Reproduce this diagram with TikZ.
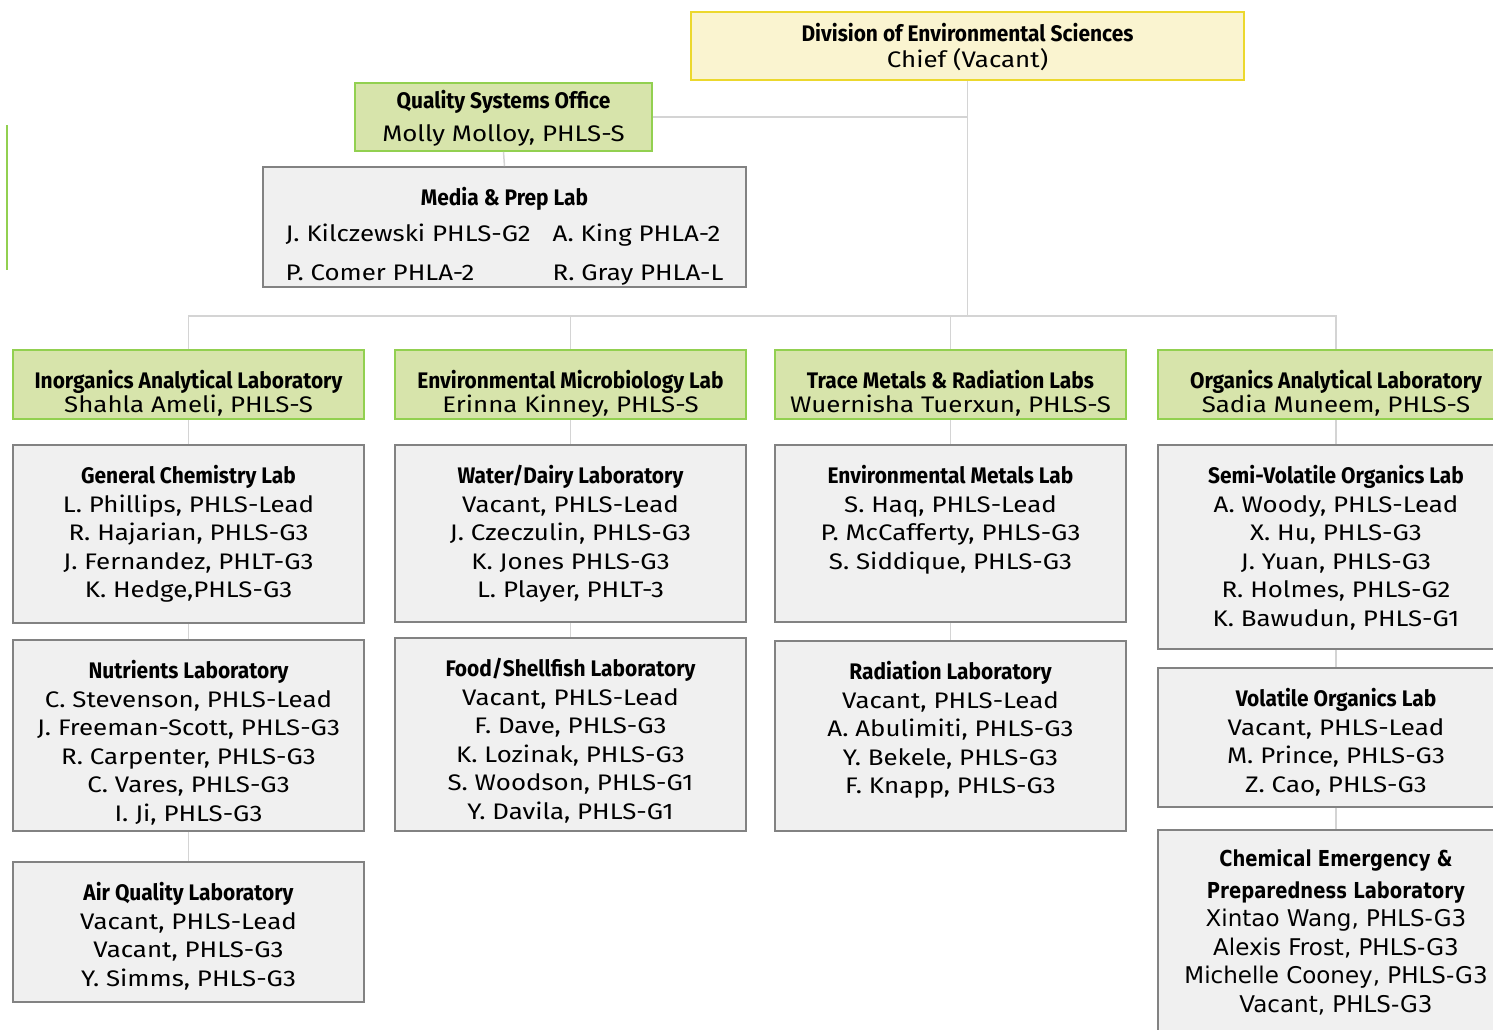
\documentclass[tikz,border=0pt]{standalone}
\usepackage{fontspec}
\setmainfont{Fira Sans}
\newfontfamily\bodyf{Fira Sans}[FakeStretch=1.15]
\newfontfamily\titf{Fira Sans}[FakeStretch=0.93]
\newfontfamily\dvf{DejaVu Sans}
\newfontfamily\dvtf{DejaVu Sans}[FakeStretch=0.82]
\definecolor{gfill}{RGB}{215,228,171}
\definecolor{gdraw}{RGB}{146,208,80}
\definecolor{yfill}{RGB}{250,244,208}
\definecolor{ydraw}{RGB}{236,216,45}
\definecolor{grfill}{RGB}{240,240,240}
\definecolor{grdraw}{RGB}{130,130,130}
\definecolor{conn}{RGB}{212,212,212}
\newcommand\ttl[1]{{\fontsize{22.5}{28.5}\titf\bfseries\strut #1}}
\newcommand\tb[3][340pt]{\parbox[c][#2pt][t]{#1}{\centering\vspace*{19pt}#3}}
\begin{document}
\begin{tikzpicture}[x=1pt,y=-1pt,
  basebox/.style={rectangle, inner sep=0pt, align=center, text=black},
  topbox/.style={basebox, fill=yfill, draw=ydraw, line width=2.5pt, minimum width=553, minimum height=68,
     font=\fontsize{22.5}{24}\selectfont\bodyf},
  greenbox/.style={basebox, fill=gfill, draw=gdraw, line width=1.8pt, minimum height=69,
     font=\fontsize{22.5}{24}\selectfont\bodyf},
  graybox/.style={basebox, fill=grfill, draw=grdraw, line width=1.6pt,
     font=\fontsize{22.5}{28.5}\selectfont\bodyf},
  link/.style={draw=conn, line width=1.5pt}]
\useasboundingbox (0,0) rectangle (1493,1029);

% stray green mark
\draw[gdraw, line width=2.8pt] (7,125) -- (7,270);

% top
\node[topbox] (div) at (967.5,46) {\ttl{Division of Environmental Sciences}\\[-3pt]Chief (Vacant)};
\node[greenbox, minimum width=297, minimum height=68, font=\fontsize{22.5}{33}\selectfont\bodyf] (qso) at (503.5,117)
  {\ttl{Quality Systems Office}\\Molly Molloy, PHLS-S};
\node[graybox, minimum width=483, minimum height=120] (media) at (504.5,227)
  {\tb[475pt]{120}{\begin{tabular}[t]{@{}l@{\hspace{22pt}}l@{}}
   \multicolumn{2}{c}{\ttl{Media \& Prep Lab}}\\[7pt]
   J. Kilczewski PHLS-G2 & A. King PHLA-2\\[10.5pt]
   P. Comer PHLA-2 & R. Gray PHLA-L
   \end{tabular}}};

% level 2
\node[greenbox, minimum width=351] (inorg) at (188.5,384.5) {\tb{69}{\ttl{Inorganics Analytical Laboratory}\\[-4pt]Shahla Ameli, PHLS-S}};
\node[greenbox, minimum width=351] (micro) at (570.5,384.5) {\tb{69}{\ttl{Environmental Microbiology Lab}\\[-4pt]Erinna Kinney, PHLS-S}};
\node[greenbox, minimum width=351] (trace) at (950.5,384.5) {\tb{69}{\ttl{Trace Metals \& Radiation Labs}\\[-4pt]Wuernisha Tuerxun, PHLS-S}};
\node[greenbox, minimum width=356] (org) at (1336,384.5) {\tb{69}{\ttl{Organics Analytical Laboratory}\\[-4pt]Sadia Muneem, PHLS-S}};

% column 1
\node[graybox, minimum width=351] (genchem) at (188.5,534) {\tb{178}{\ttl{General Chemistry Lab}\\L. Phillips, PHLS-Lead\\R. Hajarian, PHLS-G3\\J. Fernandez, PHLT-G3\\K. Hedge,PHLS-G3}};
\node[graybox, minimum width=351] (nutr) at (188.5,735.5) {\tb{191}{\ttl{Nutrients Laboratory}\\C. Stevenson, PHLS-Lead\\J. Freeman-Scott, PHLS-G3\\R. Carpenter, PHLS-G3\\C. Vares, PHLS-G3\\I. Ji, PHLS-G3}};
\node[graybox, minimum width=351] (air) at (188.5,932) {\tb{140}{\ttl{Air Quality Laboratory}\\Vacant, PHLS-Lead\\Vacant, PHLS-G3\\Y. Simms, PHLS-G3}};

% column 2
\node[graybox, minimum width=351] (water) at (570.5,533.5) {\tb{177}{\ttl{Water/Dairy Laboratory}\\Vacant, PHLS-Lead\\J. Czeczulin, PHLS-G3\\K. Jones PHLS-G3\\L. Player, PHLT-3}};
\node[graybox, minimum width=351] (food) at (570.5,734.5) {\tb{193}{\ttl{Food/Shellfish Laboratory}\\Vacant, PHLS-Lead\\F. Dave, PHLS-G3\\K. Lozinak, PHLS-G3\\S. Woodson, PHLS-G1\\Y. Davila, PHLS-G1}};

% column 3
\node[graybox, minimum width=351] (envmet) at (950.5,533.5) {\tb{177}{\ttl{Environmental Metals Lab}\\S. Haq, PHLS-Lead\\P. McCafferty, PHLS-G3\\S. Siddique, PHLS-G3}};
\node[graybox, minimum width=351] (rad) at (950.5,736) {\tb{190}{\ttl{Radiation Laboratory}\\Vacant, PHLS-Lead\\A. Abulimiti, PHLS-G3\\Y. Bekele, PHLS-G3\\F. Knapp, PHLS-G3}};

% column 4
\node[graybox, minimum width=356] (semi) at (1336,547) {\tb{204}{\ttl{Semi-Volatile Organics Lab}\\A. Woody, PHLS-Lead\\X. Hu, PHLS-G3\\J. Yuan, PHLS-G3\\R. Holmes, PHLS-G2\\K. Bawudun, PHLS-G1}};
\node[graybox, minimum width=356] (vol) at (1336,737.5) {\tb{139}{\ttl{Volatile Organics Lab}\\Vacant, PHLS-Lead\\M. Prince, PHLS-G3\\Z. Cao, PHLS-G3}};
\node[graybox, minimum width=356, font=\fontsize{23}{28.5}\selectfont\dvf] (chem) at (1336,934)
  {\parbox[c][208pt][t]{350pt}{\centering\vspace*{17pt}{\dvtf\fontsize{22}{28.5}\selectfont\bfseries\strut Chemical Emergency \&}\\[3pt]{\dvtf\fontsize{22}{28.5}\selectfont\bfseries Preparedness Laboratory}\\Xintao Wang, PHLS-G3\\Alexis Frost, PHLS-G3\\Michelle Cooney, PHLS-G3\\Vacant, PHLS-G3}};

% connectors
\coordinate (b1) at (188.5,316);
\coordinate (b2) at (570.5,316);
\coordinate (b3) at (950.5,316);
\coordinate (b4) at (1336,316);
\coordinate (b0) at (967.5,316);
\draw[link] (div.south) -- (b0);
\draw[link] (qso.east) -- (qso.east -| div.south);
\draw[link] (qso.south) -- (media.north);
\draw[link] (inorg.north) -- (b1) -- (b4) -- (org.north);
\draw[link] (micro.north) -- (b2);
\draw[link] (trace.north) -- (b3);
\draw[link] (inorg.south) -- (genchem.north);
\draw[link] (genchem.south) -- (nutr.north);
\draw[link] (nutr.south) -- (air.north);
\draw[link] (micro.south) -- (water.north);
\draw[link] (water.south) -- (food.north);
\draw[link] (trace.south) -- (envmet.north);
\draw[link] (envmet.south) -- (rad.north);
\draw[link] (org.south) -- (semi.north);
\draw[link] (semi.south) -- (vol.north);
\draw[link] (vol.south) -- (chem.north);
\end{tikzpicture}
\end{document}
